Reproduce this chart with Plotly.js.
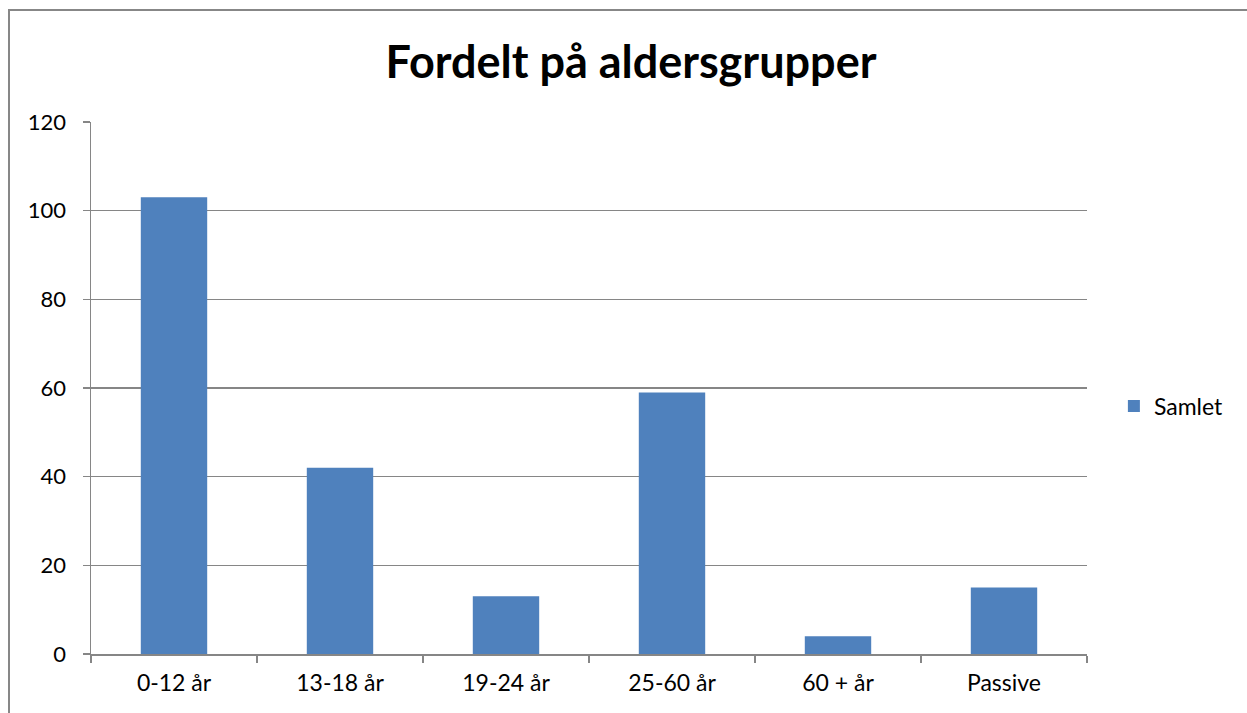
<!DOCTYPE html>
<html>
<head>
<meta charset="utf-8">
<script src="https://cdn.plot.ly/plotly-3.0.1.min.js"></script>
<style>
  html, body { margin: 0; padding: 0; background: #fff; overflow: hidden; }
  #chart { width: 1247px; height: 713px; position: absolute; left: 0; top: 0; }
  #frame { position: absolute; left: 8px; top: 9px; width: 1300px; height: 800px;
           border-left: 2px solid #878787; border-top: 2px solid #878787; pointer-events: none; }
</style>
</head>
<body>
<div id="chart"></div>
<div id="frame"></div>
<script>
const categories = ["0-12 år", "13-18 år", "19-24 år", "25-60 år", "60 + år", "Passive"];
const samlet = [103, 42, 13, 59, 4, 15];
const seriesName = "Samlet";
const chartTitle = "Fordelt på aldersgrupper";

const fontFam = "Lato, 'Open Sans', 'Liberation Sans', sans-serif";
const gray = "#868686";

Plotly.newPlot("chart", [{
  type: "bar",
  x: categories,
  y: samlet,
  name: seriesName,
  marker: { color: "#4F81BD" },
  showlegend: true
}], {
  width: 1247, height: 713,
  margin: { l: 91, r: 160, t: 122, b: 59, pad: 0 },
  paper_bgcolor: "#fff", plot_bgcolor: "#fff",
  title: { text: "<b>" + chartTitle + "</b>", font: { family: fontFam, size: 45, color: "#000" },
           x: 0.506, xanchor: "center", y: 0.913, yanchor: "middle" },
  bargap: 0.6,
  xaxis: {
    type: "category",
    showgrid: false, showline: true, linecolor: gray, linewidth: 1.5,
    ticks: "outside", tickson: "boundaries", ticklen: 7, tickcolor: gray, tickwidth: 1.5,
    tickfont: { family: fontFam, size: 23, color: "#000" },
    ticklabelstandoff: 8
  },
  yaxis: {
    range: [0, 120], tickvals: [0, 20, 40, 60, 80, 100, 120],
    showgrid: true, gridcolor: gray, gridwidth: 1.2,
    showline: true, linecolor: gray, linewidth: 1.5,
    ticks: "outside", ticklen: 7, tickcolor: gray, tickwidth: 1.5,
    tickfont: { family: fontFam, size: 22, color: "#000" },
    ticklabelstandoff: 12, zeroline: false
  },
  legend: {
    x: 1.027, xanchor: "left", y: 0.466, yanchor: "middle",
    font: { family: fontFam, size: 23, color: "#000" },
    itemwidth: 30, bgcolor: "rgba(0,0,0,0)"
  }
}, { displayModeBar: false, staticPlot: true });
</script>
</body>
</html>
